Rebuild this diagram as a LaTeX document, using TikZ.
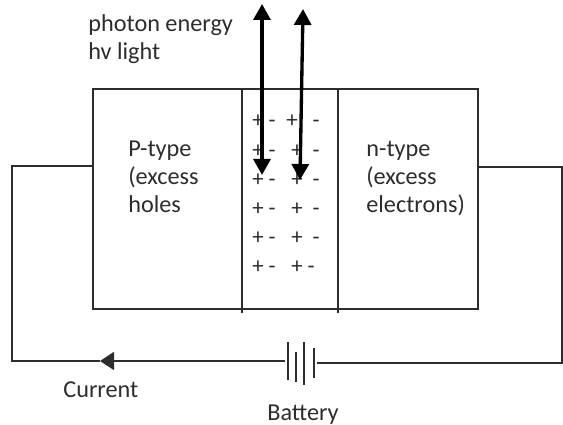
\documentclass[tikz,border=0pt]{standalone}
\usepackage{fontspec}
\setmainfont{Carlito}
\usepackage{xcolor}
\usetikzlibrary{arrows.meta}

\definecolor{inkgrey}{RGB}{45,45,45}
\tikzset{
    wire/.style={line width=1pt, inkgrey},
    lightray/.style={line width=1.9pt, black, {Triangle[length=0.32cm,width=0.34cm]}-{Triangle[length=0.32cm,width=0.34cm]}},
    label/.style={inkgrey, align=left, anchor=north west, inner sep=0pt, font=\fontsize{13.8pt}{15.9pt}\selectfont},
    charge/.style={inkgrey, inner sep=0pt, anchor=base, yshift=-0.147cm, font=\fontsize{13pt}{14pt}\selectfont}
}

\begin{document}
\begin{tikzpicture}
    \useasboundingbox (0,0) rectangle (11.26,8.5);
    \fill[white] (0,0) rectangle (11.26,8.5);
    % junction block
    \node[wire, draw, minimum width=7.7cm, minimum height=4.4cm, inner sep=0pt] (block) at (5.71,4.52) {};
    \coordinate (midTopL) at (4.84,6.72);
    \coordinate (midBotL) at (4.84,2.24);
    \coordinate (midTopR) at (6.76,6.72);
    \coordinate (midBotR) at (6.76,2.24);
    \draw[wire] (midTopL) -- (midBotL);
    \draw[wire] (midTopR) -- (midBotR);
    % circuit
    \coordinate (leftIn) at (1.86,5.18);
    \coordinate (leftUp) at (0.24,5.18);
    \coordinate (leftDown) at (0.24,1.28);
    \coordinate (currentTip) at (2.0,1.28);
    \coordinate (batLeft) at (5.7,1.28);
    \coordinate (batRight) at (6.34,1.24);
    \coordinate (rightDown) at (11.24,1.24);
    \coordinate (rightUp) at (11.24,5.16);
    \coordinate (rightIn) at (9.56,5.16);
    \draw[wire] (leftIn) -- (leftUp) -- (leftDown) -- (currentTip);
    \draw[wire, -{Triangle[length=0.28cm,width=0.36cm]}] (batLeft) -- (currentTip);
    \draw[wire] (batRight) -- (rightDown) -- (rightUp) -- (rightIn);
    % battery plates
    \draw[wire] (5.76,1.66) -- (5.76,0.9);
    \draw[wire] (5.92,1.46) -- (5.92,0.86);
    \draw[wire] (6.08,1.66) -- (6.08,0.8);
    \draw[wire] (6.28,1.54) -- (6.28,0.94);
    % charges
    \foreach \row/\y/\xc/\xd in {1/6.10/5.84/6.32, 2/5.50/5.94/6.32, 3/4.92/5.94/6.32, 4/4.34/5.94/6.32, 5/3.76/5.94/6.32, 6/3.18/5.94/6.22} {
        \node[charge] (plusA\row) at (5.16,\y) {+};
        \node[charge] (minusA\row) at (5.44,\y) {-};
        \node[charge] (plusB\row) at (\xc,\y) {+};
        \node[charge] (minusB\row) at (\xd,\y) {-};
    }
    % light
    \coordinate (rayTopA) at (5.24,8.42);
    \coordinate (rayBotA) at (5.24,5.0);
    \coordinate (rayTopB) at (6.06,8.32);
    \coordinate (rayBotB) at (6.0,4.9);
    \draw[lightray] (rayTopA) -- (rayBotA);
    \draw[lightray] (rayTopB) -- (rayBotB);
    % labels
    \node[label] (photon) at (1.76,8.22) {photon energy\\hv light};
    \node[label] (ptype) at (2.56,5.68) {P-type\\(excess\\holes};
    \node[label] (ntype) at (7.32,5.68) {n-type\\(excess\\electrons)};
    \node[label] (current) at (1.26,0.88) {Current};
    \node[label] (battery) at (5.34,0.4) {Battery};
\end{tikzpicture}
\end{document}
